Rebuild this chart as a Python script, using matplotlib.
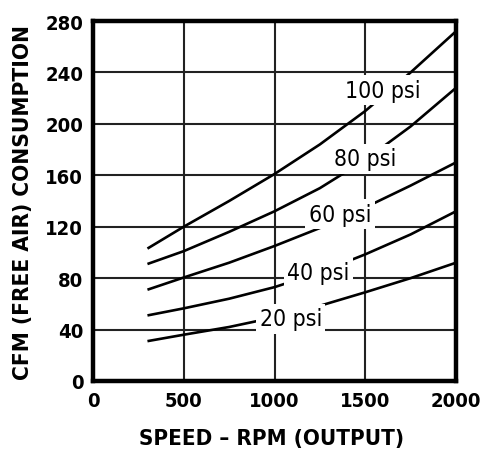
import numpy as np
import matplotlib.pyplot as plt
from matplotlib import font_manager as fm

# use a condensed face if one exists, else plain Liberation Sans a bit smaller
def have_font(**kw):
    try:
        p = fm.findfont(fm.FontProperties(**kw), fallback_to_default=False)
        return p
    except Exception:
        return None

narrow = have_font(family='Liberation Sans Narrow')
cond = have_font(family='DejaVu Sans', stretch='condensed')
if narrow:
    plt.rcParams['font.family'] = ['Liberation Sans Narrow', 'DejaVu Sans']
    scale = 1.1
elif cond and 'ondensed' in cond:
    plt.rcParams['font.family'] = ['DejaVu Sans']
    plt.rcParams['font.stretch'] = 'condensed'
    scale = 1.0
else:
    plt.rcParams['font.family'] = ['Liberation Sans', 'DejaVu Sans']
    scale = 0.93

# speed (rpm) where each curve was read
rpm = [300, 500, 750, 1000, 1250, 1500, 1750, 2000]

# CFM (free air) for each supply pressure
cfm_100 = [103, 120, 140, 161, 184, 210, 240, 272]
cfm_80 = [91, 101, 116, 132, 150, 172, 198, 228]
cfm_60 = [71, 80.5, 92, 105, 119, 135, 152, 170]
cfm_40 = [51, 56.5, 64, 73, 84.5, 98.5, 114, 132]
cfm_20 = [31, 36, 42, 49.5, 58.5, 69, 80, 92]

curves = [cfm_100, cfm_80, cfm_60, cfm_40, cfm_20]
labels = ['100 psi', '80 psi', '60 psi', '40 psi', '20 psi']
label_rpm = [1598, 1502, 1361, 1243, 1090]
label_cfm = [226, 172.7, 129.7, 84.5, 48.4]

x_ticks = [0, 500, 1000, 1500, 2000]
y_ticks = [0, 40, 80, 120, 160, 200, 240, 280]

fig = plt.figure(figsize=(4.81, 4.52), dpi=100)
ax = fig.add_axes([93 / 481, 70 / 452, 363 / 481, 360 / 452])

for y in curves:
    ax.plot(rpm, y, color='black', lw=1.9, zorder=3, solid_capstyle='butt')

for txt, xx, yy in zip(labels, label_rpm, label_cfm):
    ax.text(xx, yy, txt, ha='center', va='center', fontsize=16.5 * scale, color='black',
            zorder=4, bbox=dict(facecolor='white', edgecolor='none',
                                boxstyle='square,pad=0.15'))

ax.set_xlim(0, 2000)
ax.set_ylim(0, 280)
ax.set_xticks(x_ticks)
ax.set_yticks(y_ticks)
ax.grid(True, color='#222222', lw=1.5, zorder=1)
ax.set_axisbelow(True)
for s in ax.spines.values():
    s.set_linewidth(3.2)
    s.set_zorder(5)

ax.tick_params(length=0, labelsize=14.5 * scale, pad=7)
for lab in ax.get_xticklabels() + ax.get_yticklabels():
    lab.set_fontweight('bold')

ax.set_xlabel('SPEED – RPM (OUTPUT)', fontsize=16 * scale, fontweight='bold', va='center')
ax.set_ylabel('CFM (FREE AIR) CONSUMPTION', fontsize=16.2 * scale, fontweight='bold', va='center')
ax.xaxis.set_label_coords(0.492, -0.158)
ax.yaxis.set_label_coords(-0.193, 0.5)

fig.savefig('out.png', dpi=100)
